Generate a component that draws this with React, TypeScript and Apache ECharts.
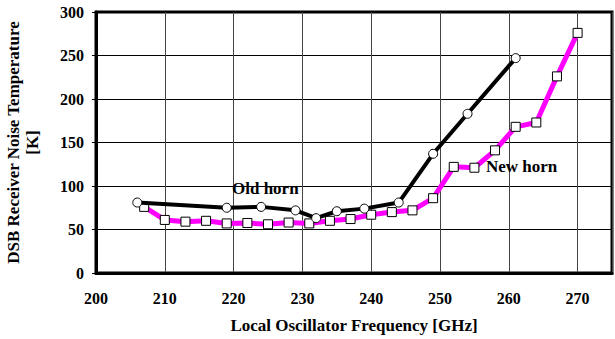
import React, { useEffect, useRef } from "react";
import * as echarts from "echarts";

const oldFreq = [206, 219, 224, 229, 232, 235, 239, 244, 249, 254, 261];
const oldTemp = [81, 75, 76, 72, 63, 71, 74, 81, 137, 183, 247];
const newFreq = [207, 210, 213, 216, 219, 222, 225, 228, 231, 234, 237, 240, 243, 246, 249, 252, 255, 258, 261, 264, 267, 270];
const newTemp = [76, 61, 59, 60, 57, 57.5, 56, 58, 57, 60, 62, 67, 70, 72, 86, 122, 121, 141, 168, 173, 226, 276];
const xTicks = [200, 210, 220, 230, 240, 250, 260, 270];
const yTicks = [0, 50, 100, 150, 200, 250, 300];

const FONT = "'Liberation Serif', 'Times New Roman', Times, serif";

export default function App() {
  const ref = useRef<HTMLDivElement>(null);
  useEffect(() => {
    const chart = echarts.init(ref.current!, null, { renderer: "svg" });
    chart.setOption({
      animation: false,
      grid: {
        left: 96,
        top: 12,
        right: 3,
        bottom: 66,
        outerBoundsMode: "none",
        containLabel: false,
        show: true,
        borderColor: "#000",
        borderWidth: 3,
        backgroundColor: "#fff",
      },
      xAxis: {
        type: "value",
        min: 200,
        max: 275,
        interval: 10,
        axisLine: { show: true, lineStyle: { color: "#000", width: 3 } },
        axisTick: { show: false },
        axisLabel: {
          margin: 17,
          color: "#000",
          fontFamily: FONT,
          fontWeight: "bold",
          fontSize: 16,
          showMaxLabel: false,
          formatter: (v: number) => (xTicks.includes(v) ? String(v) : ""),
        },
        splitLine: { show: true, lineStyle: { color: "#444", width: 1 } },
        name: "Local Oscillator Frequency [GHz]",
        nameLocation: "middle",
        nameGap: 44,
        nameTextStyle: { color: "#000", fontFamily: FONT, fontWeight: "bold", fontSize: 17 },
      },
      yAxis: {
        type: "value",
        min: 0,
        max: 300,
        interval: 50,
        axisLine: { show: true, lineStyle: { color: "#000", width: 3 } },
        axisTick: { show: true, length: 4, lineStyle: { color: "#000", width: 1 } },
        axisLabel: {
          margin: 12,
          color: "#000",
          fontFamily: FONT,
          fontWeight: "bold",
          fontSize: 16,
          formatter: (v: number) => (yTicks.includes(v) ? String(v) : ""),
        },
        splitLine: { show: true, lineStyle: { color: "#000", width: 1 } },
        name: "DSB Receiver Noise Temperature\n[K]",
        nameLocation: "middle",
        nameGap: 54,
        nameRotate: 90,
        nameTextStyle: {
          color: "#000",
          fontFamily: FONT,
          fontWeight: "bold",
          fontSize: 17,
          lineHeight: 19,
          align: "center",
        },
      },
      series: [
        {
          name: "New horn",
          type: "line",
          data: newFreq.map((f, i) => [f, newTemp[i]]),
          symbol: "rect",
          symbolSize: 9,
          lineStyle: { color: "#ff00ff", width: 5 },
          itemStyle: { color: "#fff", borderColor: "#000", borderWidth: 1 },
          z: 2,
        },
        {
          name: "Old horn",
          type: "line",
          data: oldFreq.map((f, i) => [f, oldTemp[i]]),
          symbol: "circle",
          symbolSize: 9,
          lineStyle: { color: "#000", width: 4 },
          itemStyle: { color: "#fff", borderColor: "#000", borderWidth: 1 },
          z: 3,
        },
      ],
      graphic: [
        {
          type: "text",
          left: 232,
          top: 180,
          z: 10,
          style: { text: "Old horn", fill: "#000", fontFamily: FONT, fontWeight: "bold", fontSize: 17 },
        },
        {
          type: "text",
          left: 486,
          top: 158,
          z: 10,
          style: { text: "New horn", fill: "#000", fontFamily: FONT, fontWeight: "bold", fontSize: 17 },
        },
      ],
    });
    return () => chart.dispose();
  }, []);
  return <div ref={ref} style={{ width: 615, height: 339, position: "absolute", left: 0, top: 0 }} />;
}
